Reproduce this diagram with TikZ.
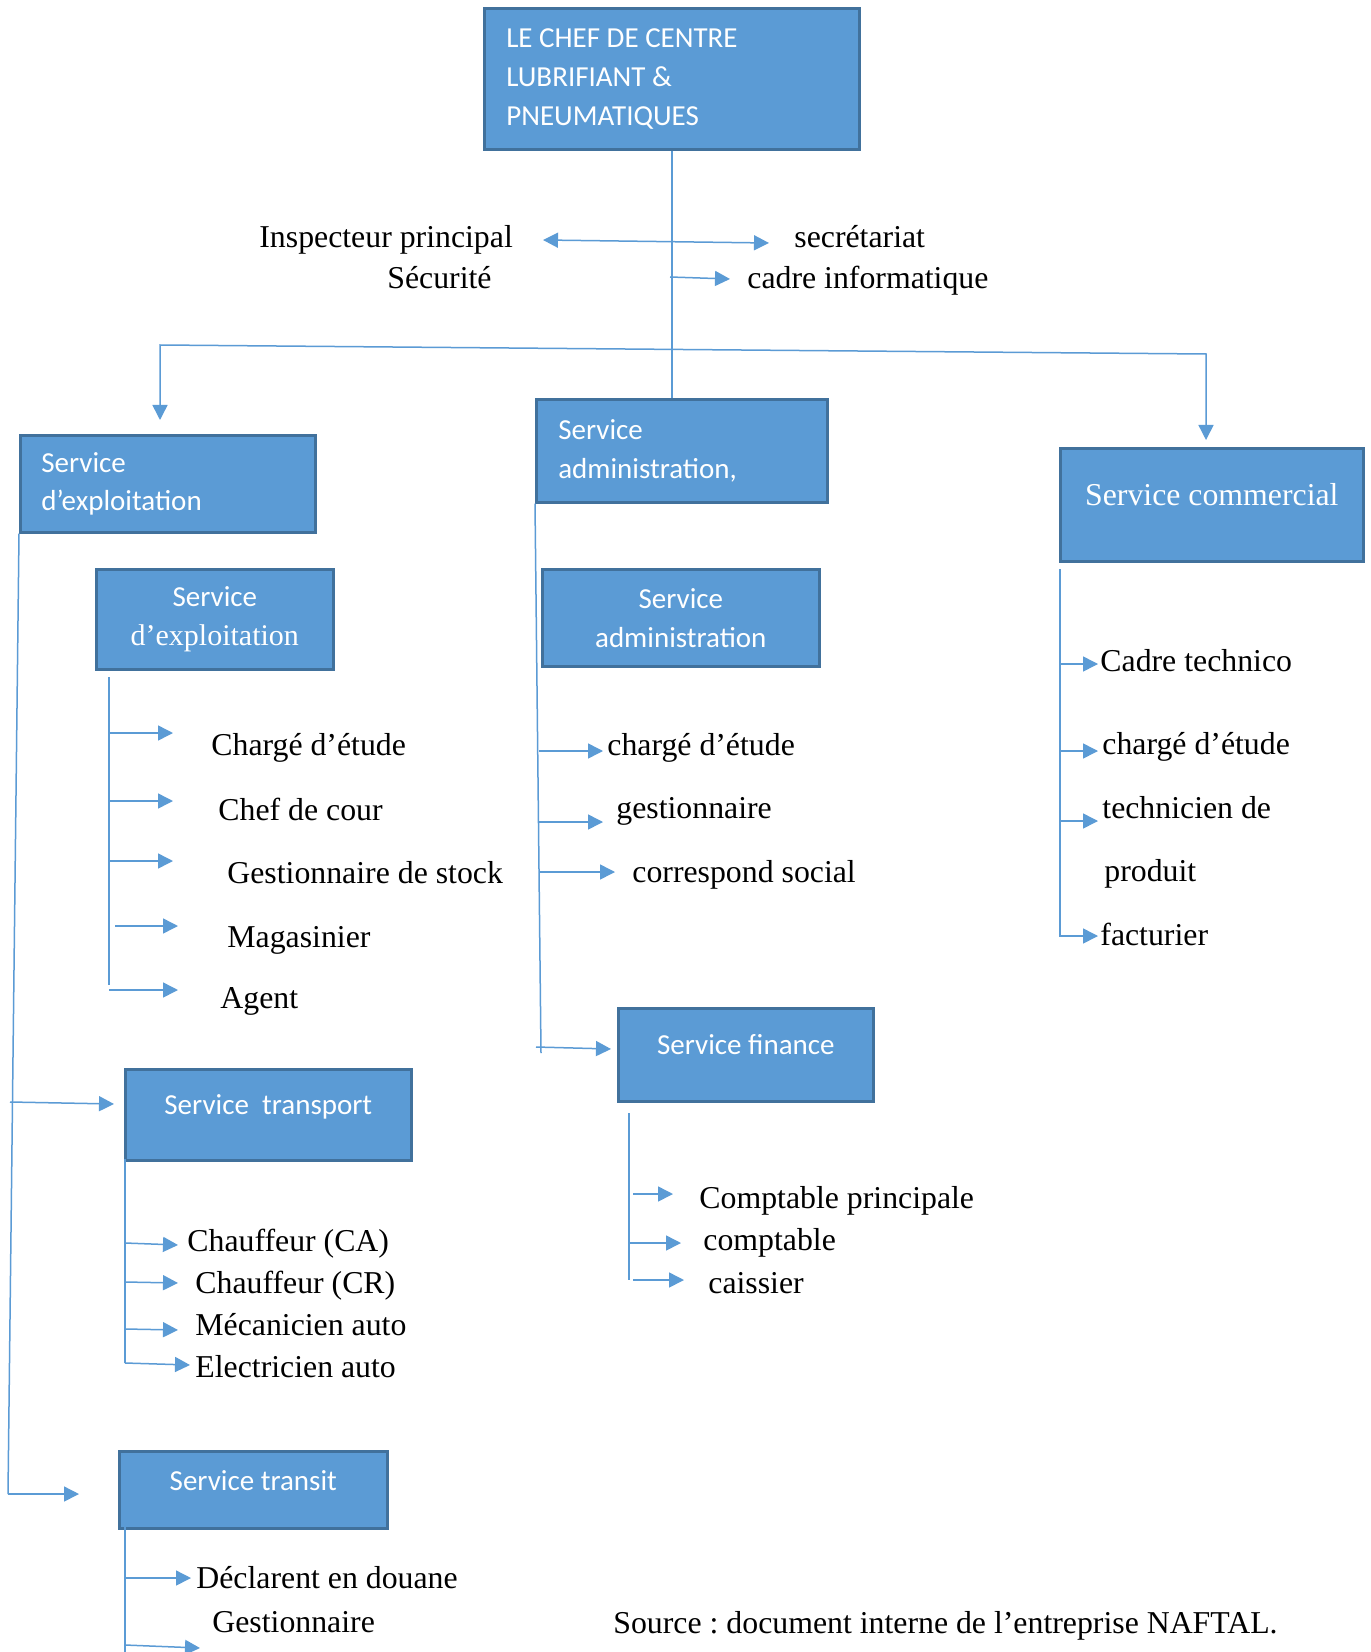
\documentclass[tikz,border=0pt]{standalone}
\usepackage{fontspec}
\setmainfont{Liberation Serif}
\newfontfamily\calibri{Carlito}
\usetikzlibrary{arrows.meta}
\definecolor{boxBlue}{HTML}{5B9BD5}
\definecolor{boxEdge}{HTML}{41719C}
\definecolor{linkBlue}{HTML}{5B9BD5}

\begin{document}
\frenchspacing
\begin{tikzpicture}[x=0.5pt,y=-0.5pt,>={Triangle[length=7.5pt,width=7.5pt]},
  box/.style={draw=boxEdge,line width=1.3pt,fill=boxBlue,text=white,anchor=north west,inner sep=0pt,font=\calibri\fontsize{14.5}{19.4}\selectfont},
  boxleft/.style={box,align=flush left,inner xsep=11pt,text width=#1},
  boxmid/.style={box,align=center},
  topline/.style={text depth=10pt},
  lbl/.style={anchor=base west,inner sep=0pt,font=\fontsize{15.9}{19}\selectfont},
  link/.style={draw=linkBlue,line width=0.75pt}]
  \path[use as bounding box,fill=white] (0,0) rectangle (1370,1652);

  % chef de centre + staff
  \node[boxleft=165.5pt,minimum width=187.5pt,minimum height=70.5pt] (chef) at (483,7) {LE CHEF DE CENTRE\\LUBRIFIANT \&\\PNEUMATIQUES};
  \node[lbl] (insp) at (259,248) {Inspecteur principal};
  \node[lbl] (secu) at (387,289) {Sécurité};
  \node[lbl] (secr) at (794,248) {secrétariat};
  \node[lbl] (info) at (747,289) {cadre informatique};
  \coordinate (ipL) at (543,240); \coordinate (ipR) at (769,243);
  \draw[link,<->] (ipL) -- (ipR);
  \coordinate (ciA) at (670,277); \coordinate (ciB) at (730,279);
  \draw[link,->] (ciA) -- (ciB);

  % the three services
  \node[boxleft=126.5pt,inner xsep=10.5pt,minimum width=147.5pt,minimum height=48.5pt] (expl) at (19,434) {Service\\d’exploitation};
  \node[boxleft=123.5pt,minimum width=145.5pt,minimum height=51.5pt] (adm) at (535,398) {Service\\administration,};
  \node[boxmid,topline,minimum width=151.5pt,minimum height=56.5pt,font=\rmfamily\fontsize{15.9}{19}\selectfont] (com) at (1059,447) {Service commercial};
  \draw[link] (chef.south) -- (chef.south |- adm.north);
  \coordinate (barL) at (160,345); \coordinate (barR) at (1206,354);
  \coordinate (tipL) at (160,420); \coordinate (tipR) at (1206,440);
  \draw[link,<->] (tipL) -- (barL) -- (barR) -- (tipR);

  % service d'exploitation
  \node[boxmid,minimum width=118.5pt,minimum height=50pt] (explB) at (95,568) {Service\\{\rmfamily\fontsize{15}{19.4}\selectfont d’exploitation}};
  \coordinate (exTop) at (109,677); \coordinate (exBot) at (109,985);
  \draw[link] (exTop) -- (exBot);
  \foreach \ya/\xa/\xb/\xt/\yt/\txt [count=\i] in {733/109/173/211/755/{Chargé d’étude},
      801/109/173/218/820/{Chef de cour}, 861/109/173/227/883/{Gestionnaire de stock},
      926/115/178/227/947/Magasinier, 990/109/178/220/1008/Agent} {
    \coordinate (exA\i) at (\xa,\ya); \coordinate (exB\i) at (\xb,\ya);
    \draw[link,->] (exA\i) -- (exB\i);
    \node[lbl] (ex\i) at (\xt,\yt) {\txt};
  }

  % left trunk: transport, transit
  \coordinate (ltBot) at (8,1494);
  \draw[link] (expl.south west) -- (ltBot);
  \node[boxmid,topline,minimum width=143pt,minimum height=45.5pt] (trn) at (124,1068) {Service~~transport};
  \node[boxmid,topline,text depth=9pt,minimum width=134pt,minimum height=38.5pt] (tst) at (118,1450) {Service transit};
  \coordinate (trA) at (10,1102); \coordinate (trB) at (114,1104);
  \draw[link,->] (trA) -- (trB);
  \coordinate (tsB) at (79,1494);
  \draw[link,->] (ltBot) -- (tsB);

  % service transport
  \coordinate (tnTop) at (125,1159); \coordinate (tnBot) at (125,1363);
  \draw[link] (tnTop) -- (tnBot);
  \foreach \ya/\yb/\xb/\xt/\yt/\txt [count=\i] in {1243/1245/178/187/1251/{Chauffeur (CA)},
      1282/1283/178/195/1293/{Chauffeur (CR)}, 1329/1330/178/195/1335/{Mécanicien auto},
      1363/1365/190/195/1377/{Electricien auto}} {
    \coordinate (tnA\i) at (125,\ya); \coordinate (tnB\i) at (\xb,\yb);
    \draw[link,->] (tnA\i) -- (tnB\i);
    \node[lbl] (tn\i) at (\xt,\yt) {\txt};
  }

  % service transit
  \coordinate (tsTop) at (125,1527); \coordinate (tsBot) at (125,1660);
  \draw[link] (tsTop) -- (tsBot);
  \coordinate (tsA1) at (125,1578); \coordinate (tsB1) at (191,1578);
  \coordinate (tsA2) at (125,1645); \coordinate (tsB2) at (200,1648);
  \draw[link,->] (tsA1) -- (tsB1);
  \draw[link,->] (tsA2) -- (tsB2);
  \node[lbl] (ts1) at (196,1588) {Déclarent en douane};
  \node[lbl] (ts2) at (212,1632) {Gestionnaire};

  % service administration
  \node[boxmid,minimum width=138.5pt,minimum height=48.5pt] (admB) at (541,568) {Service\\administration};
  \coordinate (adBot) at (541,1053);
  \draw[link] (adm.south west) -- (adBot);
  \foreach \ya/\xb/\xt/\yt/\txt [count=\i] in {751/603/607/755/{chargé d’étude},
      822/603/616/818/gestionnaire, 872/615/632/882/{correspond social}} {
    \coordinate (adA\i) at (539,\ya); \coordinate (adB\i) at (\xb,\ya);
    \draw[link,->] (adA\i) -- (adB\i);
    \node[lbl] (ad\i) at (\xt,\yt) {\txt};
  }

  % service finance
  \node[boxmid,topline,minimum width=127.5pt,minimum height=46.5pt] (fin) at (617,1007) {Service finance};
  \coordinate (fiA) at (536,1047); \coordinate (fiB) at (611,1049);
  \draw[link,->] (fiA) -- (fiB);
  \coordinate (fiTop) at (629,1113); \coordinate (fiBot) at (629,1280);
  \draw[link] (fiTop) -- (fiBot);
  \foreach \ya/\xa/\xb/\xt/\yt/\txt [count=\i] in {1194/633/673/699/1208/{Comptable principale},
      1243/629/681/703/1250/comptable, 1280/633/684/708/1293/caissier} {
    \coordinate (fnA\i) at (\xa,\ya); \coordinate (fnB\i) at (\xb,\ya);
    \draw[link,->] (fnA\i) -- (fnB\i);
    \node[lbl] (fn\i) at (\xt,\yt) {\txt};
  }

  % service commercial
  \coordinate (cmTop) at (1060,569); \coordinate (cmBot) at (1060,937);
  \draw[link] (cmTop) -- (cmBot);
  \foreach \ya/\xt/\yt/\txt [count=\i] in {664/1100/671/{Cadre technico},
      751/1102/754/{chargé d’étude}, 821/1102/818/{technicien de}, 936/1100/945/facturier} {
    \coordinate (cmA\i) at (1060,\ya); \coordinate (cmB\i) at (1098,\ya);
    \draw[link,->] (cmA\i) -- (cmB\i);
    \node[lbl] (cm\i) at (\xt,\yt) {\txt};
  }
  \node[lbl] (cm5) at (1104,881) {produit};

  % source
  \node[lbl] (src) at (613,1633) {Source : document interne de l’entreprise NAFTAL.};
\end{tikzpicture}
\end{document}
